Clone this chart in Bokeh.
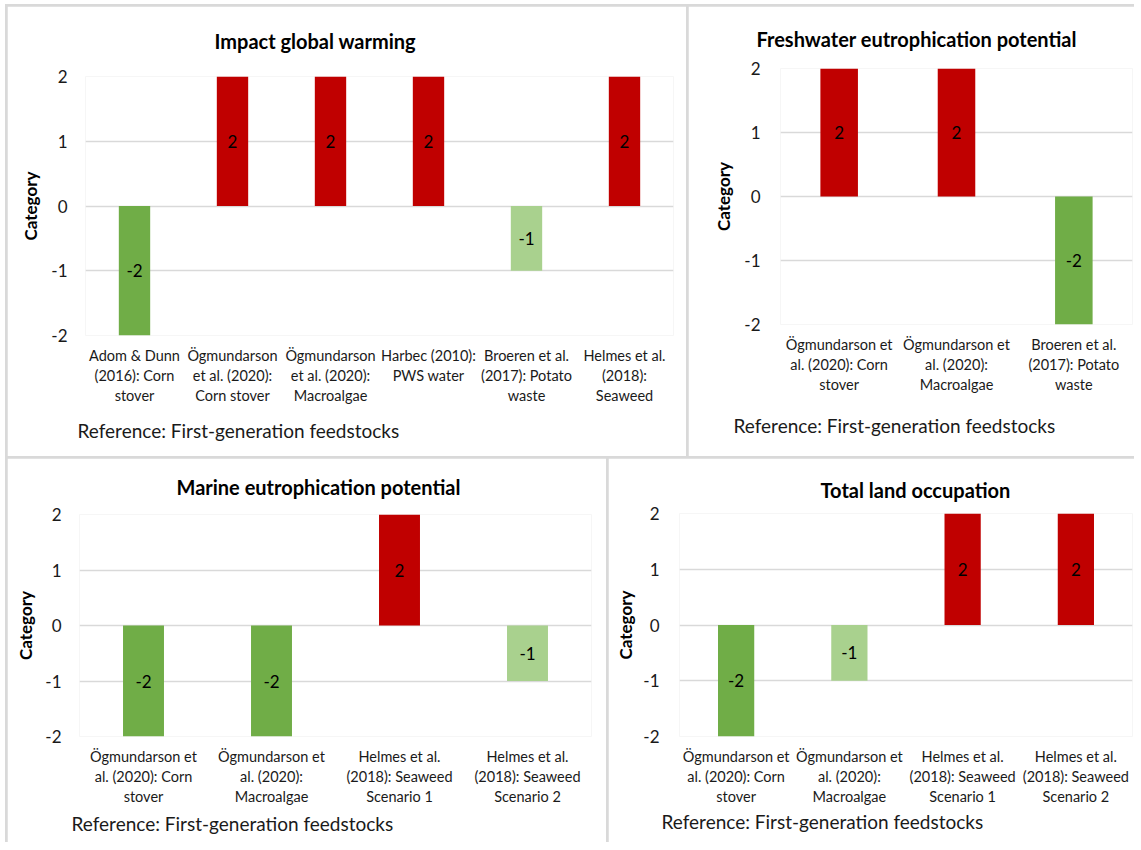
from bokeh.plotting import figure
from bokeh.models import Range1d, FixedTicker, Title, ColumnDataSource
from bokeh.layouts import row, column
from bokeh.embed import file_html
from bokeh.resources import INLINE
from bokeh.core.properties import value

FONT = "Lato"

# ---------------- data ----------------
gw_title = "Impact global warming"
gw_categories = ["Adom & Dunn\n(2016): Corn\nstover",
                 "Ögmundarson\net al. (2020):\nCorn stover",
                 "Ögmundarson\net al. (2020):\nMacroalgae",
                 "Harbec (2010):\nPWS water",
                 "Broeren et al.\n(2017): Potato\nwaste",
                 "Helmes et al.\n(2018):\nSeaweed"]
gw_values = [-2, 2, 2, 2, -1, 2]

fw_title = "Freshwater eutrophication potential"
fw_categories = ["Ögmundarson et\nal. (2020): Corn\nstover",
                 "Ögmundarson et\nal. (2020):\nMacroalgae",
                 "Broeren et al.\n(2017): Potato\nwaste"]
fw_values = [2, 2, -2]

me_title = "Marine eutrophication potential"
me_categories = ["Ögmundarson et\nal. (2020): Corn\nstover",
                 "Ögmundarson et\nal. (2020):\nMacroalgae",
                 "Helmes et al.\n(2018): Seaweed\nScenario 1",
                 "Helmes et al.\n(2018): Seaweed\nScenario 2"]
me_values = [-2, -2, 2, -1]

lo_title = "Total land occupation"
lo_categories = ["Ögmundarson et\nal. (2020): Corn\nstover",
                 "Ögmundarson et\nal. (2020):\nMacroalgae",
                 "Helmes et al.\n(2018): Seaweed\nScenario 1",
                 "Helmes et al.\n(2018): Seaweed\nScenario 2"]
lo_values = [-2, -1, 2, 2]

y_ticks = [-2, -1, 0, 1, 2]
y_tick_labels = ["-2", "-1", "0", "1", "2"]
y_label = "Category"
reference_note = "Reference: First-generation feedstocks"
color_map = {2: "#C00000", -1: "#A9D18E", -2: "#70AD47"}


def make_panel(title, categories, values, width, height, borders,
               title_off, title_standoff, note_off, note_standoff,
               y_standoff, ylab_standoff):
    left, right, top, bottom = borders
    p = figure(x_range=categories, y_range=Range1d(-2, 2),
               width=width, height=height, output_backend="svg",
               toolbar_location=None,
               min_border_left=left, min_border_right=right,
               min_border_top=top, min_border_bottom=bottom)
    p.frame_align = False
    p.title.visible = False
    p.outline_line_color = None
    p.background_fill_color = "white"
    p.border_fill_color = "white"

    src = ColumnDataSource(dict(
        cat=categories,
        val=values,
        mid=[v / 2 for v in values],
        lab=[str(v) for v in values],
        color=[color_map[v] for v in values],
    ))
    p.vbar(x="cat", top="val", bottom=0, width=0.32, source=src,
           fill_color="color", line_color=None)
    p.text(x="cat", y="mid", text="lab", source=src,
           text_font=value(FONT), text_font_size="17px",
           text_align="center", text_baseline="middle", text_color="#000000")

    p.xgrid.grid_line_color = None
    p.ygrid.grid_line_color = "#d9d9d9"
    p.ygrid.grid_line_width = 1.5

    ya = p.yaxis[0]
    ya.ticker = FixedTicker(ticks=y_ticks)
    ya.major_label_overrides = dict(zip(y_ticks, y_tick_labels))
    ya.axis_line_color = None
    ya.major_tick_line_color = None
    ya.minor_tick_line_color = None
    ya.major_tick_out = 0
    ya.minor_tick_out = 0
    ya.major_label_standoff = y_standoff
    ya.major_label_text_font = FONT
    ya.major_label_text_font_size = "17px"
    ya.major_label_text_color = "#1a1a1a"
    ya.axis_label = y_label
    ya.axis_label_text_font = FONT
    ya.axis_label_text_font_style = "bold"
    ya.axis_label_text_font_size = "17px"
    ya.axis_label_text_color = "#000000"
    ya.axis_label_standoff = ylab_standoff

    xa = p.xaxis[0]
    xa.axis_line_color = None
    xa.major_tick_line_color = None
    xa.minor_tick_line_color = None
    xa.major_tick_out = 0
    xa.minor_tick_out = 0
    xa.major_label_standoff = 11
    xa.major_label_text_font = FONT
    xa.major_label_text_font_size = "14.5px"
    xa.major_label_text_line_height = 1.18
    xa.major_label_text_color = "#1a1a1a"

    p.add_layout(Title(text=title, align="left", offset=title_off,
                       vertical_align="top", standoff=title_standoff,
                       text_font=FONT, text_font_style="bold",
                       text_font_size="20px", text_color="#000000"), "above")
    p.add_layout(Title(text=reference_note, align="left", offset=note_off,
                       vertical_align="bottom", standoff=note_standoff,
                       text_font=FONT, text_font_style="normal",
                       text_font_size="19px", text_color="#1a1a1a"), "below")
    return p


p1 = make_panel(gw_title, gw_categories, gw_values, 679, 450, (78, 13, 70, 121),
                129, 44, -8, 20, 18, 7)
p2 = make_panel(fw_title, fw_categories, fw_values, 446, 450, (92, 2, 62, 132),
                -24, 32, -47, 32, 20, 7)
p3 = make_panel(me_title, me_categories, me_values, 599, 384, (72, 15, 56, 106),
                97, 28, -8, 5, 18, 6)
p4 = make_panel(lo_title, lo_categories, lo_values, 526, 384, (71, 2, 55, 106),
                141, 20, -18, 0, 20, 4)

layout = column(row(p1, p2, spacing=2), row(p3, p4, spacing=2), spacing=2,
                styles={"background-color": "#d9d9d9", "padding": "2px 0 0 2px",
                        "margin": "4px 0 0 5px"})

open("out.html", "w").write(file_html(layout, INLINE))
